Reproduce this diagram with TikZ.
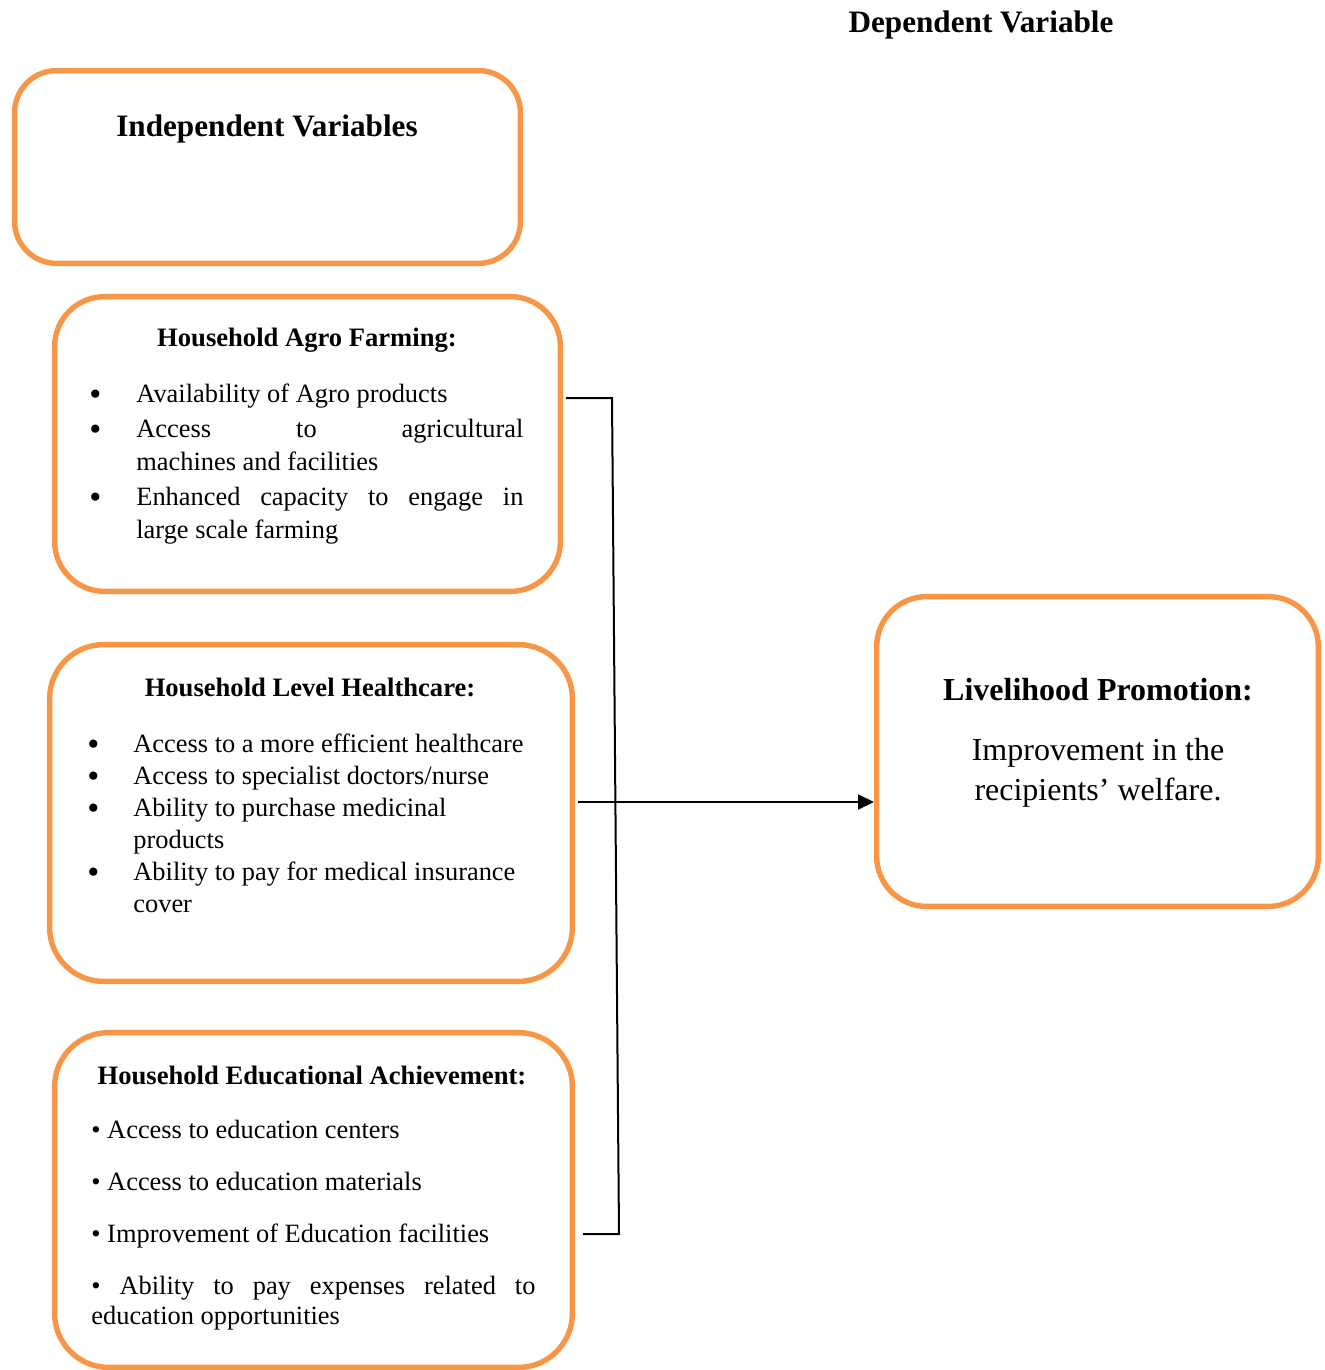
\documentclass[tikz,border=0pt]{standalone}
\usepackage{fontspec}
\setmainfont{Liberation Serif}
\usetikzlibrary{arrows.meta, positioning}
\definecolor{boxorange}{HTML}{F79646}
\newcommand{\itemdot}{\raisebox{-1.6pt}{\scalebox{1.3}{\textbullet}}}

\begin{document}
\begin{tikzpicture}[x=0.5pt, y=-0.5pt,
    varbox/.style={rectangle, draw=boxorange, line width=2.7pt, rounded corners=25pt, inner sep=0pt},
    vartitle/.style={font=\fontsize{15.6}{19}\selectfont\bfseries, anchor=base, inner sep=0pt},
    boxhead/.style={font=\fontsize{13.3}{16}\selectfont\bfseries, anchor=base, inner sep=0pt},
    itemlist/.style={font=\fontsize{13.2}{16.5}\selectfont, anchor=base west, inner sep=0pt},
    link/.style={line width=1pt}]
    \useasboundingbox (0,0) rectangle (1325,1370);
    \node[vartitle] (dep) at (981,33) {Dependent Variable};
    \node[varbox, rounded corners=21pt, minimum width=252.9pt, minimum height=96.4pt] (indep) at (267.5,167) {};
    \node[vartitle] (indeph) at (267,136) {Independent Variables};
    \node[varbox, minimum width=252.9pt, minimum height=147.4pt] (agro) at (307.5,444) {};
    \node[boxhead] (agroh) at (307,346) {Household Agro Farming:};
    \node[itemlist] (agrol) at (89,402) {\begin{tabular}[t]{@{}p{23.5pt}@{}p{193.5pt}@{}}
        \itemdot & Availability of Agro products\\[1pt]
        \itemdot & Access\hfill to\hfill agricultural\newline machines and facilities\\[1pt]
        \itemdot & Enhanced capacity to engage in\linebreak large scale farming
        \end{tabular}};
    \node[varbox, rounded corners=27pt, minimum width=261.4pt, minimum height=168.4pt] (health) at (311,813) {};
    \node[boxhead] (healthh) at (310,696) {Household Level Healthcare:};
    \node[itemlist, font=\fontsize{13.2}{16}\selectfont] (healthl) at (87,752) {\begin{tabular}[t]{@{}p{23pt}@{}p{215pt}@{}}
        \itemdot & Access to a more efficient healthcare\\
        \itemdot & Access to specialist doctors/nurse\\
        \itemdot & Ability to purchase medicinal\newline products\\
        \itemdot & Ability to pay for medical insurance\newline cover
        \end{tabular}};
    \node[varbox, rounded corners=27pt, minimum width=258.9pt, minimum height=167.4pt] (edu) at (313.5,1200) {};
    \node[boxhead] (eduh) at (312,1084) {Household Educational Achievement:};
    \node[itemlist, font=\fontsize{13.2}{15}\selectfont] (edul) at (91,1138) {\begin{tabular}[t]{@{}p{222pt}@{}}
        \textbullet{} Access to education centers\\[11pt]
        \textbullet{} Access to education materials\\[11pt]
        \textbullet{} Improvement of Education facilities\\[11pt]
        \textbullet{} Ability to pay expenses related to\linebreak education opportunities
        \end{tabular}};
    \node[varbox, minimum width=220.8pt, minimum height=154.9pt] (lp) at (1097.5,751.5) {};
    \node[vartitle, font=\fontsize{16}{20}\selectfont\bfseries] (lph) at (1098,700) {Livelihood Promotion:};
    \node[font=\fontsize{16}{20}\selectfont, anchor=base, inner sep=0pt] (lpb) at (1098,760) {\begin{tabular}[t]{@{}c@{}}
        Improvement in the\\ recipients' welfare.
        \end{tabular}};
    \coordinate (jtop) at (612,398);
    \coordinate (jbot) at (619,1234);
    \coordinate (jmid) at (725,802);
    \draw[link, shorten <=1.5pt] (agro.east |- jtop) -- (jtop) -- (jbot) -- (edu.east |- jbot) [shorten >=4pt];
    \draw[link, shorten <=1.5pt, -{Triangle[length=8pt, width=7.5pt]}] (health.east |- jmid) -- (lp.west |- jmid);
\end{tikzpicture}
\end{document}
